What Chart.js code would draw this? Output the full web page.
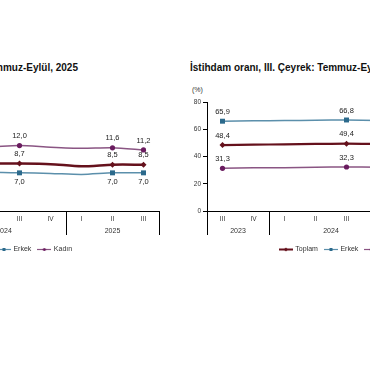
<!DOCTYPE html>
<html>
<head>
<meta charset="utf-8">
<script src="https://cdn.jsdelivr.net/npm/chart.js@4.4.1/dist/chart.umd.min.js"></script>
<style>
  html, body { margin: 0; padding: 0; background: #fff; width: 370px; height: 380px; overflow: hidden; position: relative; font-family: "Liberation Sans", Arial, sans-serif; }
  .title { position: absolute; top: 63px; font-weight: bold; font-size: 10px; line-height: 10px; color: #111; white-space: nowrap; }
  .unit { position: absolute; top: 86px; font-size: 7px; color: #333; }
  .box { position: absolute; top: 92px; }
</style>
</head>
<body>
<div class="title" style="right:292px">İşsizlik oranı, III. Çeyrek: Temmuz-Eylül, 2025</div>
<div class="title" style="left:190px">İstihdam oranı, III. Çeyrek: Temmuz-Eylül, 2025</div>
<div class="unit" style="left:-135px">(%)</div>
<div class="unit" style="left:192px">(%)</div>
<div class="box" style="left:-142px"><canvas id="issizlik" width="310" height="171"></canvas></div>
<div class="box" style="left:185px"><canvas id="istihdam" width="310" height="171"></canvas></div>

<script>
// çeyrekler ve yıllar
const quarters = ["III", "IV", "I", "II", "III", "IV", "I", "II", "III"];
const quarterYears = ["2023", "2023", "2024", "2024", "2024", "2024", "2025", "2025", "2025"];
const markedIdx = [0, 4, 7, 8]; // değer etiketi gösterilen çeyrekler

// İşsizlik oranı (%)
const issizToplam = [9.1, 8.8, 8.6, 8.7, 8.7, 8.6, 8.2, 8.5, 8.5];
const issizErkek = [7.6, 7.3, 7.0, 7.1, 7.0, 6.9, 6.7, 7.0, 7.0];
const issizKadin = [12.1, 11.9, 11.9, 11.8, 12.0, 11.7, 11.5, 11.6, 11.2];
const issizTicks = [0, 5, 10, 15, 20];

// İstihdam oranı (%)
const istToplam = [48.4, 48.7, 48.9, 49.2, 49.4, 49.2, 48.7, 48.9, 49.0];
const istErkek = [65.9, 66.2, 66.4, 66.6, 66.8, 66.5, 66.0, 66.3, 66.5];
const istKadin = [31.3, 31.7, 31.8, 32.1, 32.3, 32.1, 31.6, 31.8, 31.9];
const istTicks = [0, 20, 40, 60, 80];

const FONT = "'Liberation Sans', Arial, sans-serif";

// lejant için çizgi + işaret resmi
function legendGlyph(color, lineW, marker, markerColor) {
  const c = document.createElement("canvas");
  c.width = 14; c.height = 7;
  const g = c.getContext("2d");
  g.strokeStyle = color; g.lineWidth = lineW;
  g.beginPath(); g.moveTo(0, 3.5); g.lineTo(14, 3.5); g.stroke();
  g.fillStyle = markerColor;
  if (marker === "rect") g.fillRect(5.5, 2, 3, 3);
  else if (marker === "circle") { g.beginPath(); g.arc(7, 3.5, 1.5, 0, Math.PI * 2); g.fill(); }
  else { g.beginPath(); g.moveTo(7, 1.5); g.lineTo(9, 3.5); g.lineTo(7, 5.5); g.lineTo(5, 3.5); g.closePath(); g.fill(); }
  return c;
}

// nokta üstü / altı değer etiketleri
const valueLabels = {
  id: "valueLabels",
  afterDatasetsDraw(chart, args, opts) {
    const ctx = chart.ctx;
    ctx.save();
    ctx.font = "7.5px " + FONT;
    ctx.fillStyle = "#222";
    ctx.textAlign = "center";
    ctx.textBaseline = "middle";
    chart.data.datasets.forEach((ds, i) => {
      const meta = chart.getDatasetMeta(i);
      const below = opts.below && opts.below[i];
      markedIdx.forEach(k => {
        const pt = meta.data[k];
        if (!pt) return;
        const txt = ds.data[k].toFixed(1).replace(".", ",");
        ctx.fillText(txt, pt.x, pt.y + (below ? 9 : -9.5));
      });
    });
    ctx.restore();
  }
};

// yıl grupları ve ayırıcı çizgiler
const yearAxis = {
  id: "yearAxis",
  afterDraw(chart) {
    const xs = chart.scales.x, area = chart.chartArea, ctx = chart.ctx;
    const bottom = area.bottom;
    const edges = [area.left];
    const groups = [];
    let start = 0;
    for (let i = 1; i <= quarterYears.length; i++) {
      if (i === quarterYears.length || quarterYears[i] !== quarterYears[start]) {
        const right = i === quarterYears.length ? area.right
          : (xs.getPixelForValue(i - 1) + xs.getPixelForValue(i)) / 2;
        groups.push({ label: quarterYears[start], left: edges[edges.length - 1], right: right });
        edges.push(right);
        start = i;
      }
    }
    ctx.save();
    ctx.strokeStyle = "#000";
    ctx.lineWidth = 1;
    edges.forEach(e => {
      const px = Math.round(e) + 0.5;
      ctx.beginPath(); ctx.moveTo(px, bottom); ctx.lineTo(px, bottom + 24); ctx.stroke();
    });
    ctx.font = "7px " + FONT;
    ctx.fillStyle = "#333";
    ctx.textAlign = "center";
    ctx.textBaseline = "middle";
    groups.forEach(g => ctx.fillText(g.label, (g.left + g.right) / 2, bottom + 20));
    ctx.restore();
  }
};

function makeChart(id, toplam, erkek, kadin, yTicks, below, toplamW) {
  const r = (size) => quarters.map((q, i) => markedIdx.includes(i) ? size : 0);
  const datasets = [
    { label: "Toplam", data: toplam, borderColor: "#65111c", backgroundColor: "#65111c",
      borderWidth: toplamW, pointStyle: "rectRot", pointRadius: r(3), pointBorderWidth: 0,
      glyph: legendGlyph("#65111c", 2, "diamond", "#65111c") },
    { label: "Erkek", data: erkek, borderColor: "#5b8fab", backgroundColor: "#2c6a8c",
      pointBorderWidth: 0, borderWidth: 1.5, pointStyle: "rect", pointRadius: r(3.5),
      glyph: legendGlyph("#5b8fab", 1.2, "rect", "#2c6a8c") },
    { label: "Kadın", data: kadin, borderColor: "#8a5583", backgroundColor: "#6a1c5f",
      pointBorderWidth: 0, borderWidth: 1.5, pointStyle: "circle", pointRadius: r(2.6),
      glyph: legendGlyph("#8a5583", 1.2, "circle", "#6a1c5f") }
  ];

  return new Chart(document.getElementById(id).getContext("2d"), {
    type: "line",
    data: { labels: quarters, datasets: datasets },
    plugins: [valueLabels, yearAxis],
    options: {
      responsive: false,
      animation: false,
      devicePixelRatio: 1,
      elements: { line: { tension: 0.25 } },
      layout: { padding: { top: 10, right: 9, left: 8, bottom: 0 } },
      plugins: {
        tooltip: { enabled: false },
        valueLabels: { below: below },
        legend: {
          position: "bottom",
          labels: {
            usePointStyle: true,
            pointStyleWidth: 12,
            padding: 7,
            color: "#333",
            font: { size: 7, family: FONT },
            generateLabels: (chart) => chart.data.datasets.map((ds, i) => ({
              text: ds.label, pointStyle: ds.glyph, datasetIndex: i, hidden: false,
              lineWidth: 0, strokeStyle: "rgba(0,0,0,0)", fillStyle: "rgba(0,0,0,0)", fontColor: "#333"
            }))
          }
        }
      },
      scales: {
        x: {
          offset: true,
          grid: { display: false, drawTicks: false },
          border: { display: true, color: "#000", width: 1 },
          ticks: { padding: 4, color: "#333", font: { size: 6.5, family: FONT }, maxRotation: 0, autoSkip: false },
          afterFit: (s) => { s.height = 28; }
        },
        y: {
          min: yTicks[0],
          max: yTicks[yTicks.length - 1],
          afterBuildTicks: (s) => { s.ticks = yTicks.map(v => ({ value: v })); },
          grid: { display: true, drawOnChartArea: false, drawTicks: true, tickLength: 4, color: "#000" },
          border: { display: true, color: "#000", width: 1 },
          ticks: { padding: 2, color: "#333", font: { size: 6.5, family: FONT } },
          afterFit: (s) => { s.width = 14; }
        }
      }
    }
  });
}

makeChart("issizlik", issizToplam, issizErkek, issizKadin, issizTicks, [false, true, false], 2.5);
makeChart("istihdam", istToplam, istErkek, istKadin, istTicks, [false, false, false], 2.2);
</script>
</body>
</html>
